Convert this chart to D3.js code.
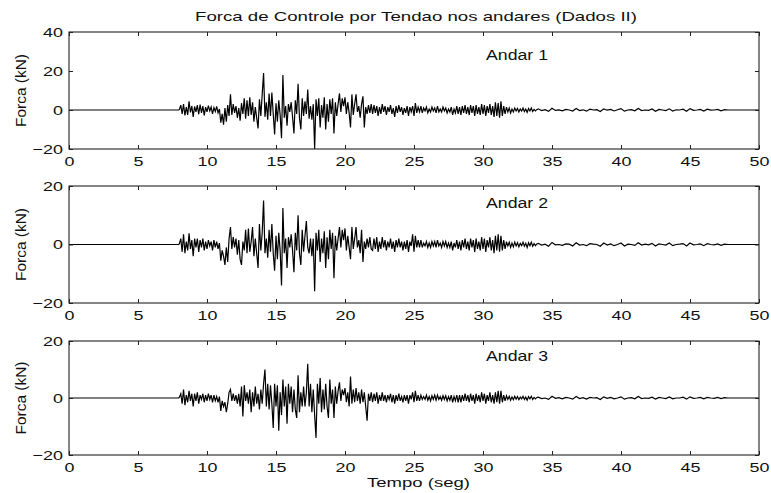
<!DOCTYPE html>
<html>
<head>
<meta charset="utf-8">
<script src="https://cdn.jsdelivr.net/npm/d3@7"></script>
<style>
  body { margin: 0; background: #fff; }
  svg { display: block; }
  text { font-family: "Liberation Sans", Arial, Helvetica, sans-serif; fill: #111; }
</style>
</head>
<body>
<svg id="chart" width="771" height="493"></svg>
<script>
// Tick labels
const timeTicks = [0, 5, 10, 15, 20, 25, 30, 35, 40, 45, 50];
const forceTicksTop = [-20, 0, 20, 40];
const forceTicks = [-20, 0, 20];

// Floor names
const floors = ["Andar 1", "Andar 2", "Andar 3"];

// Tendon control force (kN), strong-motion part: 8.0 s to 33.9 s, one sample every 0.1 s
const andar1Strong = [
   0.3,  2.5, -2.0,  3.0, -2.8,  1.5, -2.5,  4.5, -1.2,  2.0,
  -3.5,  1.8, -1.0,  2.5, -2.2,  2.8, -1.5,  2.0, -2.8,  1.5,
  -1.0,  2.2, -0.5,  1.5, -2.0,  1.2, -0.8,  1.8, -1.5,  0.5,
  -6.5, -2.0, -7.5,  1.0, -6.0,  2.5, -3.0,  8.0, -2.5,  3.0,
  -1.5,  2.0, -4.0,  1.0, -5.5,  3.5, -2.0,  6.0, -4.5,  5.0,
  -3.0,  6.5, -2.5,  4.0, -6.0,  1.5, -4.0, -9.5,  5.5, -3.0,
   8.0, 19.0, -3.5,  4.0, -5.0,  8.5, -3.0,  9.0, -2.0,-12.5,
   3.5, -6.0,  5.0, -2.5,-14.5, 18.0, -4.0,  2.0, -8.0,  3.0,
  -1.0,  4.0, -3.5,-12.0,  5.0, -2.0, 13.5, -4.0,-10.0,  6.0,
  -3.0,  4.5, -2.0, 10.5, -4.5,  2.0, -5.0,  3.0,-20.0,  5.5,
  -3.0,  6.0, -9.0,  2.5, -4.0,  6.5,-10.0,  3.0, -6.0,  5.5,
  -2.0,  6.0,-12.0,  4.0, -3.0,  3.0,  8.5, -1.0,  6.0,  2.0,
   6.5, -2.0,  4.0, -1.5, -9.0,  8.0, -2.5,  3.0,  8.0, -1.0,
   2.0, -4.0,  3.0,  7.0, -9.0,  1.5, -2.0,  2.5, -1.5,  3.0,
  -2.0,  2.5, -1.5,  2.0, -3.0,  1.5, -2.0,  3.0, -1.0,  2.0,
  -2.5,  1.5, -1.0,  2.5, -2.0,  1.0, -3.5,  2.0, -1.5,  2.5,
  -1.0,  1.5, -2.5,  1.0, -1.5,  2.0, -3.0,  1.5, -1.0,  2.0,
  -3.0,  3.5, -1.5,  1.5, -1.0,  2.0, -1.5,  1.0, -0.5,  1.5,
  -1.5,  0.5, -1.0,  1.5, -0.5,  1.0, -1.5,  2.0, -1.0,  0.5,
  -1.0,  1.5, -0.5,  1.0, -1.5,  0.5, -1.0,  1.5, -2.5,  0.5,
  -1.5,  2.0, -2.0,  1.5, -2.5,  2.0, -1.5,  2.5, -2.0,  1.5,
  -2.5,  2.5, -1.5,  2.0, -3.0,  2.5, -2.0,  1.5, -2.5,  3.0,
  -2.0,  2.5, -3.0,  2.0, -1.5,  3.0, -2.5,  2.0, -3.5,  4.0,
  -3.0,  3.5, -4.0,  4.5, -3.0,  2.0, -2.0,  1.5, -1.0,  1.0,
  -1.5,  0.5, -1.0,  1.0, -0.5,  0.8, -1.0,  0.5, -0.5,  1.0,
  -0.8,  0.5, -1.2,  0.8, -0.5,  1.0, -0.8,  0.3, -0.5,  0.2
];
const andar2Strong = [
   0.3,  2.0, -2.5,  3.5, -3.0,  1.0, -2.0,  3.8, -1.5,  1.5,
  -4.0,  2.0, -1.0,  2.0, -2.5,  1.5, -1.0,  2.0, -2.0,  1.0,
  -1.5,  1.5, -0.5,  1.0, -2.0,  1.5, -1.0,  1.0, -1.5,  0.5,
  -5.5, -2.0, -4.0, -7.0, -1.0, -6.0,  2.0,  6.0, -1.5,  2.5,
  -1.0,  2.0, -3.5,  1.5, -5.0, -7.0,  1.0, -2.0,  5.0, -3.0,
   5.5, -2.5,  1.0,  6.0, -4.0,  2.0, -3.0, -8.0,  7.0, -2.0,
   4.0, 15.0, -3.0,  2.0, -4.5,  5.0, -2.5,  7.0, -3.0, -9.0,
   3.0, -5.0,  4.0, -2.0,-14.0, 12.5, -3.0,  2.0, -8.0,  2.5,
  -1.0,  3.5, -2.0, -9.5,  4.0, -2.0, 10.0, -3.0, -7.0,  5.0,
  -2.5,  3.0,  8.0, -1.0, -3.0,  2.0, -4.0,  2.0,-16.0,  4.0,
  -2.0,  5.0, -6.0,  2.0, -3.0,  4.5, -8.0,  2.5, -5.0,  5.0,
  -1.5,  4.0,-11.5,  3.0, -2.0,  2.0,  6.0, -1.0,  5.0,  1.5,
   5.5, -2.0,  3.0, -1.0, -5.0,  6.0, -1.5,  2.0,  6.0, -1.0,
   1.5, -3.0,  5.0, -6.0,  1.0, -1.5,  2.0, -1.0,  2.5, -1.5,
  -2.0,  2.0, -1.5,  2.5, -2.5,  1.0, -1.5,  2.5, -1.0,  1.5,
  -2.0,  1.0, -1.0,  2.0, -1.5,  1.0, -2.5,  1.5, -1.0,  2.0,
  -1.0,  1.0, -2.0,  1.0, -1.5,  1.5, -2.5,  1.0, -0.5,  3.5,
  -2.5,  3.0, -1.0,  1.5, -1.0,  1.5, -1.0,  0.5, -0.5,  1.0,
  -1.0,  0.5, -1.0,  1.0, -0.5,  1.0, -1.0,  1.5, -0.5,  0.5,
  -1.0,  1.0, -0.5,  1.0, -1.0,  0.5, -1.0,  1.0, -2.0,  0.5,
  -1.0,  1.5, -1.5,  1.0, -2.0,  1.5, -1.0,  2.0, -1.5,  1.0,
  -2.0,  2.0, -1.0,  1.5, -2.5,  2.0, -1.5,  1.0, -2.0,  2.5,
  -1.5,  2.0, -2.5,  1.5, -1.0,  2.5, -2.0,  1.5, -3.0,  3.0,
  -2.0,  3.5, -2.5,  3.0, -2.0,  1.5, -1.5,  1.0, -0.5,  0.8,
  -1.0,  0.5, -0.8,  0.8, -0.5,  0.6, -0.8,  0.4, -0.4,  0.8,
  -0.6,  0.4, -1.0,  0.6, -0.4,  0.8, -0.6,  0.3, -0.4,  0.2
];
const andar3Strong = [
   0.3,  1.5, -2.0,  3.0, -2.5,  1.0, -1.5,  2.5, -1.0,  1.5,
  -3.0,  1.5, -1.0,  2.0, -2.0,  1.0, -0.5,  1.5, -1.5,  1.0,
  -1.0,  1.5, -0.5,  1.0, -1.5,  1.0, -1.0,  0.5, -1.5,  0.5,
  -4.5, -1.0, -3.0, -1.5, -5.0, -2.0,  2.0,  3.0, -1.0,  1.5,
  -1.0,  1.0, -2.0,  1.5, -3.0,  4.0, -6.5,  4.5, -1.0,  2.0,
  -2.0,  3.0, -5.0,  2.0, -3.0,  4.0, -2.0,  1.5, -4.0,  3.0,
  -2.0,  5.0, 10.0, -3.0,  5.0, -4.0,  4.5, -2.0,-10.5,  5.0,
  -3.0,  4.5,-11.5,  2.0, -6.0,  6.5, -3.0,  4.0, -9.0,  5.0,
  -2.0,  4.0, -5.0,  3.0, -4.0, -7.0,  8.0, -5.0,  2.0, -3.0,
   4.0, -3.0,  2.0, 12.0, -3.0,  5.0, -5.0,  3.0, -6.0,-14.0,
   5.0, -2.0,  7.0, -5.0,  3.0, -4.0,  5.0, -3.0, -7.0,  6.5,
  -2.0,  3.0, -7.0,  4.0, -2.0,  2.5,  5.5, -1.0,  3.0,  1.0,
   3.5, -1.5,  2.0, -3.0,  7.5, -2.0,  3.0, -1.5,  3.5, -1.0,
   2.0, -2.0,  3.0, -1.5,  2.0, -3.0, -8.0,  1.5, -1.0,  2.0,
  -1.5,  1.5, -1.0,  2.0, -2.0,  1.0, -1.0,  2.0, -1.0,  1.0,
  -1.5,  1.0, -0.5,  1.5, -1.5,  1.0, -2.0,  1.0, -1.0,  1.5,
  -1.0,  0.5, -1.5,  1.0, -1.0,  1.0, -2.0,  1.0, -0.5,  2.0,
  -1.5,  2.5, -1.0,  1.0, -1.0,  1.0, -0.5,  0.5, -0.5,  1.0,
  -0.8,  0.5, -1.0,  0.8, -0.5,  1.0, -0.8,  1.0, -0.5,  0.5,
  -0.8,  0.8, -0.5,  0.8, -1.0,  0.5, -0.8,  1.0, -1.5,  0.5,
  -1.0,  1.0, -1.5,  1.0, -1.5,  1.0, -1.0,  1.5, -1.0,  1.0,
  -1.5,  1.5, -1.0,  1.0, -2.0,  1.5, -1.0,  1.0, -1.5,  2.0,
  -1.0,  1.5, -2.0,  1.0, -1.0,  2.0, -1.5,  1.0, -2.0,  2.0,
  -1.5,  2.5, -2.0,  2.5, -1.5,  1.0, -1.0,  0.8, -0.5,  0.6,
  -0.8,  0.4, -0.6,  0.6, -0.4,  0.5, -0.6,  0.3, -0.3,  0.6,
  -0.5,  0.3, -0.8,  0.5, -0.3,  0.6, -0.5,  0.2, -0.3,  0.2
];

// Residual vibration: 34.0 s to 47.75 s, one sample every 0.25 s
const andar1Tail = [
   0.6,-0.3, 0.2,-0.7, 0.9,-0.2, 0.1,-0.4,  0.3, 0.0,-0.5, 0.8,-0.3, 0.1,-0.6, 0.4,
   0.0, 0.2,-0.8, 0.6,-0.1, 0.3,-0.5, 0.1,  0.7,-0.6, 0.0, 0.2,-0.4, 0.8,-0.3, 0.0,
  -0.2, 0.5,-0.7, 0.3, 0.0,-0.3, 0.6,-0.5,  0.1, 0.0, 0.4,-0.6, 0.7,-0.2, 0.0, 0.3,
  -0.5, 0.4,-0.1, 0.0, 0.3,-0.4, 0.2, 0.0
];
const andar2Tail = [
   0.4,-0.2, 0.1,-0.6, 0.7,-0.1, 0.0,-0.3,  0.2, 0.1,-0.5, 0.6,-0.2, 0.0,-0.4, 0.3,
   0.1, 0.0,-0.6, 0.5,-0.2, 0.2,-0.4, 0.0,  0.5,-0.5, 0.1, 0.0,-0.3, 0.6,-0.2, 0.1,
  -0.1, 0.4,-0.5, 0.2, 0.0,-0.2, 0.5,-0.4,  0.0, 0.1, 0.3,-0.5, 0.5,-0.1, 0.0, 0.2,
  -0.4, 0.3, 0.0,-0.1, 0.2,-0.3, 0.1, 0.0
];
const andar3Tail = [
   0.3,-0.2, 0.0,-0.5, 0.6,-0.1, 0.1,-0.3,  0.2, 0.0,-0.4, 0.5,-0.2, 0.1,-0.4, 0.2,
   0.0, 0.1,-0.5, 0.4,-0.1, 0.2,-0.3, 0.0,  0.4,-0.4, 0.0, 0.1,-0.3, 0.5,-0.2, 0.0,
  -0.1, 0.3,-0.4, 0.2, 0.0,-0.2, 0.4,-0.3,  0.0, 0.0, 0.3,-0.4, 0.4,-0.1, 0.0, 0.2,
  -0.3, 0.2, 0.0,-0.1, 0.2,-0.2, 0.1, 0.0
];

// Assemble a full 0-50 s record: quiet before 8 s and after 48 s
function record(strong, tail) {
  const pts = [[0, 0], [7.95, 0]];
  strong.forEach((v, i) => pts.push([8 + i * 0.1, v]));
  tail.forEach((v, i) => pts.push([34 + i * 0.25, v]));
  pts.push([48, 0], [50, 0]);
  return pts;
}

const svg = d3.select("#chart");
const x = d3.scaleLinear().domain([0, 50]).range([69, 759]);
const STRETCH = 1.38;

const panels = [
  { top: 32,  bottom: 149, domain: [-20, 40], ticks: forceTicksTop, data: record(andar1Strong, andar1Tail), name: floors[0], labelBase: 60 },
  { top: 186, bottom: 303, domain: [-20, 20], ticks: forceTicks,    data: record(andar2Strong, andar2Tail), name: floors[1], labelBase: 208 },
  { top: 341, bottom: 455, domain: [-20, 20], ticks: forceTicks,    data: record(andar3Strong, andar3Tail), name: floors[2], labelBase: 361 }
];

panels.forEach((p, k) => {
  const y = d3.scaleLinear().domain(p.domain).range([p.bottom, p.top]);
  const g = svg.append("g");

  g.append("clipPath").attr("id", "clip" + k)
    .append("rect").attr("x", x(0)).attr("y", p.top)
    .attr("width", x(50) - x(0)).attr("height", p.bottom - p.top);

  const line = d3.line().x(d => x(d[0])).y(d => y(d[1]));
  g.append("path").datum(p.data)
    .attr("clip-path", `url(#clip${k})`)
    .attr("d", line)
    .attr("fill", "none")
    .attr("stroke", "#000")
    .attr("stroke-width", 1.2)
    .attr("stroke-linejoin", "miter");

  // axis frame
  g.append("rect").attr("x", x(0)).attr("y", p.top)
    .attr("width", x(50) - x(0)).attr("height", p.bottom - p.top)
    .attr("fill", "none").attr("stroke", "#222").attr("stroke-width", 1.1);

  const fmt = d3.format("d");
  const bottomAxis = g.append("g").attr("transform", `translate(0,${p.bottom})`)
    .call(d3.axisBottom(x).tickValues(timeTicks).tickSizeInner(-4).tickSizeOuter(0).tickFormat(fmt));
  bottomAxis.selectAll("text").attr("y", 17).attr("dy", null)
    .attr("transform", `scale(${STRETCH},1)`);

  g.append("g").attr("transform", `translate(0,${p.top})`)
    .call(d3.axisTop(x).tickValues(timeTicks).tickSizeInner(-4).tickSizeOuter(0).tickFormat(""));

  const leftAxis = g.append("g").attr("transform", `translate(${x(0)},0)`)
    .call(d3.axisLeft(y).tickValues(p.ticks).tickSizeInner(-4).tickSizeOuter(0).tickFormat(fmt));
  leftAxis.selectAll("text").attr("x", -6 / STRETCH)
    .attr("transform", `scale(${STRETCH},1)`);

  g.append("g").attr("transform", `translate(${x(50)},0)`)
    .call(d3.axisRight(y).tickValues(p.ticks).tickSizeInner(-4).tickSizeOuter(0).tickFormat(""));

  g.selectAll(".domain").remove();
  g.selectAll(".tick line").attr("stroke", "#222");
  g.selectAll(".tick text").attr("font-size", 13).attr("fill", "#111")
    .attr("font-family", '"Liberation Sans", Arial, sans-serif');

  // floor label
  g.append("text").attr("x", 486).attr("y", p.labelBase)
    .attr("font-size", 14).attr("textLength", 62).attr("lengthAdjust", "spacingAndGlyphs")
    .text(p.name);

  // y label
  g.append("text")
    .attr("transform", `translate(26,${(p.top + p.bottom) / 2}) rotate(-90)`)
    .attr("text-anchor", "middle").attr("font-size", 14)
    .attr("textLength", 73).attr("lengthAdjust", "spacingAndGlyphs")
    .text("Forca (kN)");
});

svg.append("text").attr("x", 195).attr("y", 21)
  .attr("font-size", 13).attr("textLength", 442).attr("lengthAdjust", "spacingAndGlyphs")
  .text("Forca de Controle por Tendao nos andares (Dados II)");

svg.append("text").attr("x", 367).attr("y", 487)
  .attr("font-size", 13).attr("textLength", 103).attr("lengthAdjust", "spacingAndGlyphs")
  .text("Tempo (seg)");
</script>
</body>
</html>
